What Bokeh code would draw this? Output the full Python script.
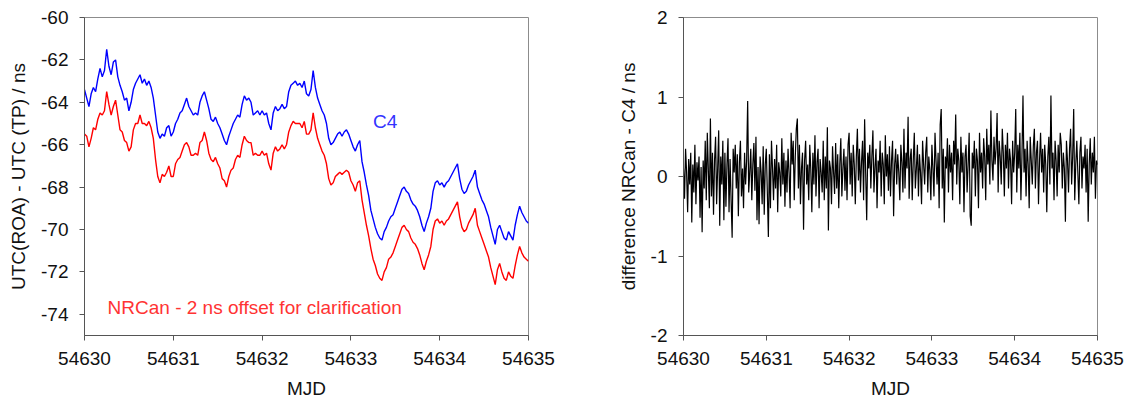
import numpy as np
from bokeh.plotting import figure
from bokeh.layouts import row
from bokeh.models import FixedTicker, Label, ColumnDataSource
from bokeh.embed import file_html
from bokeh.resources import INLINE

# ---------------- data ----------------
mjd_start = 54630
c4_step = 0.025      # days between C4 / NRCan samples
diff_step = 0.0125   # days between difference samples

# UTC(ROA) - UTC(TP) from C4 receiver (ns), every 0.025 d from MJD 54630
c4 = [
    -63.4, -63.8, -64.2, -63.6, -63.3, -63.5, -62.9, -62.4, -62.8, -62.5,
    -61.5, -62.3, -62.7, -62.1, -62.0, -62.8, -63.2, -63.5, -63.9, -63.8,
    -64.4, -64.0, -63.4, -63.1, -62.9, -62.7, -63.1, -62.9, -63.2, -63.0,
    -63.3, -63.8, -64.6, -65.4, -65.7, -65.5, -65.6, -65.2, -65.1, -65.6,
    -65.4, -65.0, -64.8, -64.5, -64.4, -64.1, -63.8, -64.2, -64.4, -64.6,
    -64.5, -64.6, -64.0, -63.7, -63.5, -63.9, -64.3, -64.8, -64.9, -64.7,
    -65.0, -65.2, -65.5, -65.8, -66.0, -65.6, -65.3, -65.0, -64.8, -64.6,
    -64.7, -64.1, -63.7, -63.9, -63.8, -64.0, -64.6, -64.5, -64.4, -64.6,
    -64.4, -64.6, -64.5, -65.0, -65.3, -64.5, -64.2, -64.4, -64.3, -64.1,
    -64.3, -64.2, -63.5, -63.2, -63.1, -63.0, -63.2, -63.1, -63.3, -63.0,
    -63.6, -63.7, -63.4, -62.5, -63.3, -63.8, -64.1, -64.4, -64.6, -65.0,
    -65.7, -66.0, -65.9, -65.7, -65.5, -65.4, -65.6, -65.4, -65.3, -65.5,
    -65.8, -66.1, -66.3, -66.0, -65.8, -66.8, -67.3, -67.9, -68.4, -69.1,
    -69.5, -69.9, -70.2, -70.4, -70.5, -70.1, -69.9, -69.6, -69.4, -69.3,
    -69.0, -68.7, -68.4, -68.1, -68.0, -68.2, -68.3, -68.6, -68.8, -68.9,
    -69.1, -69.4, -69.8, -70.1, -69.7, -69.4, -69.0, -68.2, -67.8, -67.7,
    -67.9, -67.8, -68.0, -67.8, -67.7, -67.5, -67.3, -67.1, -66.9, -67.6,
    -68.1, -68.3, -68.2, -67.9, -67.7, -67.5, -67.2, -68.0, -68.3, -68.6,
    -68.8, -69.1, -69.4, -69.9, -70.3, -70.7, -70.0, -69.8, -70.1, -70.4,
    -70.5, -70.1, -70.3, -70.5, -69.8, -69.3, -68.9, -69.2, -69.4, -69.6,
    -69.7,
]

# UTC(ROA) - UTC(TP) from NRCan PPP (ns), every 0.025 d (plotted with -2 ns offset)
nrcan = [
    -63.5, -63.6, -64.1, -63.7, -63.2, -63.3, -62.8, -62.5, -62.6, -62.4,
    -61.5, -62.1, -62.6, -62.2, -61.9, -62.6, -63.3, -63.4, -63.8, -63.9,
    -64.3, -64.1, -63.3, -63.0, -63.0, -62.6, -63.0, -63.0, -63.1, -62.9,
    -63.2, -63.7, -64.7, -65.5, -65.8, -65.4, -65.5, -65.3, -65.0, -65.5,
    -65.5, -64.9, -64.7, -64.6, -64.3, -64.0, -63.9, -64.1, -64.5, -64.5,
    -64.4, -64.5, -63.9, -63.8, -63.4, -63.8, -64.4, -64.7, -64.8, -64.6,
    -64.9, -65.1, -65.6, -65.7, -66.0, -65.5, -65.2, -65.1, -64.7, -64.5,
    -64.6, -64.0, -63.6, -63.8, -63.9, -63.9, -64.5, -64.4, -64.5, -64.5,
    -64.3, -64.5, -64.4, -64.9, -65.2, -64.4, -64.1, -64.3, -64.2, -64.0,
    -64.2, -64.0, -63.4, -63.1, -62.9, -63.0, -63.0, -63.0, -63.2, -62.9,
    -63.5, -63.5, -63.3, -62.5, -63.2, -63.7, -64.0, -64.3, -64.5, -64.9,
    -65.6, -65.9, -65.8, -65.5, -65.4, -65.3, -65.4, -65.3, -65.2, -65.3,
    -65.7, -65.9, -66.2, -65.8, -65.7, -66.6, -67.2, -67.8, -68.3, -68.9,
    -69.4, -69.7, -70.1, -70.3, -70.4, -70.0, -69.8, -69.4, -69.3, -69.1,
    -68.8, -68.5, -68.2, -67.9, -67.8, -68.0, -68.1, -68.4, -68.6, -68.7,
    -68.9, -69.2, -69.6, -69.9, -69.5, -69.2, -68.8, -68.0, -67.6, -67.5,
    -67.7, -67.6, -67.8, -67.6, -67.5, -67.3, -67.1, -66.9, -66.7, -67.4,
    -67.9, -68.1, -68.0, -67.7, -67.5, -67.3, -67.0, -67.8, -68.1, -68.4,
    -68.7, -69.0, -69.3, -69.8, -70.2, -70.6, -69.9, -69.6, -70.0, -70.3,
    -70.4, -70.0, -70.2, -70.3, -69.7, -69.2, -68.8, -69.1, -69.3, -69.4,
    -69.5,
]

# difference NRCan - C4 (ns), every 0.0125 d from MJD 54630
diff = [
    0.10, -0.28, 0.35, 0.05, -0.45, 0.22, -0.10, 0.30, -0.58, 0.15, -0.20, 0.40, -0.35, 0.18, -0.05, 0.25, -0.52, 0.12, -0.70, 0.20,
    -0.15, 0.45, -0.30, 0.55, 0.08, -0.40, 0.73, -0.25, 0.30, -0.48, 0.20, 0.50, -0.35, 0.10, 0.58, -0.62, 0.25, -0.10, 0.45, -0.55,
    0.30, -0.38, 0.15, 0.48, -0.45, 0.22, -0.30, -0.77, 0.35, 0.05, 0.40, -0.15, 0.28, -0.50, 0.18, 0.45, -0.25, 0.10, -0.40, 0.30,
    -0.10, 0.20, 0.95, -0.20, 0.05, 0.35, -0.30, 0.15, 0.42, -0.18, 0.50, -0.55, 0.12, -0.60, 0.25, 0.05, -0.35, 0.38, -0.48, 0.15,
    0.35, -0.20, -0.76, 0.28, -0.40, 0.45, 0.10, -0.30, 0.22, -0.15, 0.40, -0.45, 0.18, 0.05, -0.25, 0.48, -0.10, 0.30, -0.38, 0.20,
    -0.20, 0.35, 0.05, -0.40, 0.55, 0.15, 0.45, -0.30, 0.25, 0.60, 0.73, -0.15, 0.40, -0.35, 0.10, 0.30, -0.67, 0.20, 0.45, -0.10,
    0.15, -0.30, 0.40, 0.08, -0.45, 0.30, -0.10, 0.52, -0.25, 0.18, 0.35, -0.40, 0.22, 0.05, -0.20, 0.45, -0.30, 0.25, -0.15, 0.62,
    -0.68, 0.20, 0.10, -0.35, 0.38, 0.05, -0.22, 0.42, -0.15, 0.28, -0.40, 0.15, 0.48, -0.25, 0.10, 0.35, -0.18, 0.25, -0.30, 0.40,
    0.55, -0.10, 0.30, -0.25, 0.40, 0.15, -0.35, 0.25, 0.60, -0.05, 0.35, -0.20, 0.18, 0.45, -0.30, 0.72, 0.05, -0.55, 0.30, 0.10,
    0.40, -0.15, 0.25, 0.58, -0.20, 0.12, 0.35, -0.40, 0.20, 0.05, 0.45, -0.25, 0.30, 0.15, -0.35, 0.52, 0.00, 0.28, -0.18, 0.38,
    -0.25, 0.20, 0.45, -0.50, 0.15, 0.35, -0.10, 0.28, 0.05, -0.30, 0.40, 0.18, -0.20, 0.60, -0.15, 0.30, 0.10, 0.75, -0.28, 0.22,
    0.35, -0.30, 0.20, 0.55, -0.15, 0.10, 0.40, -0.25, 0.28, 0.05, -0.35, 0.45, 0.15, -0.10, 0.30, 0.50, -0.20, 0.25, 0.08, -0.30,
    0.40, 0.10, -0.25, 0.55, 0.20, -0.10, 0.30, -0.40, 0.65, 0.85, -0.15, 0.35, -0.58, 0.25, 0.10, 0.48, -0.20, 0.40, 0.05, 0.30,
    -0.30, 0.45, 0.15, 0.78, -0.10, 0.35, 0.20, -0.35, 0.50, 0.05, 0.30, -0.45, 0.25, 0.40, -0.20, 0.15, 0.55, -0.50, -0.62, 0.30,
    0.10, 0.45, -0.25, 0.35, 0.20, -0.40, 0.55, 0.05, 0.30, -0.15, 0.48, 0.25, -0.30, 0.60, 0.15, 0.40, -0.10, 0.83, 0.20, -0.05,
    0.50, 0.15, 0.35, 0.80, -0.20, 0.45, 0.25, -0.10, 0.60, 0.30, -0.25, 0.40, 0.10, 0.55, -0.15, 0.35, 0.20, -0.35, 0.45, 0.05,
    0.30, 0.85, -0.20, 0.40, 0.10, 0.55, -0.30, 0.25, 1.02, 0.05, 0.35, -0.25, 0.45, 0.15, -0.40, 0.50, 0.20, -0.10, 0.38, 0.60,
    -0.15, 0.30, 0.45, -0.35, 0.20, 0.55, 0.05, 0.35, -0.20, 0.40, 0.15, -0.45, 0.25, 0.50, -0.10, 1.02, 0.10, 0.30, -0.30, 0.45,
    0.20, -0.25, 0.40, 0.05, 0.55, 0.40, -0.15, 0.30, 0.10, -0.57, 0.45, 0.20, -0.20, 0.35, 0.60, -0.10, 0.25, 0.85, -0.30, 0.15,
    0.45, 0.05, -0.35, 0.30, 0.50, -0.15, 0.25, 0.10, 0.40, -0.20, 0.35, -0.57, 0.15, 0.48, -0.10, 0.30, 0.05, 0.50, -0.28, 0.20,
    0.15,
]

nrcan_offset = -2.0  # ns offset applied to NRCan for clarification

x_ticks = [54630, 54631, 54632, 54633, 54634, 54635]
x_tick_labels = ["54630", "54631", "54632", "54633", "54634", "54635"]
left_y_ticks = [-74, -72, -70, -68, -66, -64, -62, -60]
right_y_ticks = [-2, -1, 0, 1, 2]

# ---------------- derived tables ----------------
c4_mjd = mjd_start + np.arange(len(c4)) * c4_step
diff_mjd = mjd_start + np.arange(len(diff)) * diff_step
nrcan_shown = np.array(nrcan) + nrcan_offset

src_left = ColumnDataSource(dict(mjd=c4_mjd, c4=np.array(c4), nrcan=nrcan_shown))
src_right = ColumnDataSource(dict(mjd=diff_mjd, diff=np.array(diff)))

FONT = "Liberation Sans"
FS = "19px"


def style(p, yticks):
    p.background_fill_color = "white"
    p.border_fill_color = "white"
    p.outline_line_color = "#8c8c8c"
    p.outline_line_width = 1
    p.xgrid.visible = False
    p.ygrid.visible = False
    p.xaxis.ticker = FixedTicker(ticks=x_ticks)
    p.xaxis.major_label_overrides = {t: s for t, s in zip(x_ticks, x_tick_labels)}
    p.yaxis.ticker = FixedTicker(ticks=yticks)
    p.yaxis.major_label_overrides = {t: str(t) for t in yticks}
    for ax in (p.xaxis[0], p.yaxis[0]):
        ax.axis_line_color = "#555555"
        ax.major_tick_line_color = "#555555"
        ax.major_tick_in = 0
        ax.major_tick_out = 5
        ax.minor_tick_line_color = None
        ax.major_label_text_font = FONT
        ax.major_label_text_font_size = FS
        ax.major_label_text_color = "#111111"
        ax.axis_label_text_font = FONT
        ax.axis_label_text_font_size = FS
        ax.axis_label_text_font_style = "normal"
        ax.axis_label_text_color = "#111111"
    p.xaxis.major_label_standoff = 11
    p.xaxis.axis_label_standoff = 10
    p.yaxis.major_label_standoff = 11
    p.yaxis.axis_label_standoff = 9


# ---------------- left panel ----------------
p1 = figure(
    width=580, height=402,
    x_range=(54630, 54635), y_range=(-75, -60),
    output_backend="svg", toolbar_location=None,
    min_border_left=84, min_border_right=52,
    min_border_top=17, min_border_bottom=67,
    x_axis_label="MJD", y_axis_label="UTC(ROA) - UTC (TP) / ns",
)
style(p1, left_y_ticks)
p1.line("mjd", "c4", source=src_left, line_color="#0000ff", line_width=1.4)
p1.line("mjd", "nrcan", source=src_left, line_color="#ff0000", line_width=1.4)
p1.add_layout(Label(x=54633.25, y=-64.9, text="C4", text_color="#3333ff",
                    text_font=FONT, text_font_size=FS, text_baseline="middle",
                    text_align="left"))
p1.add_layout(Label(x=54630.26, y=-73.7, text="NRCan - 2 ns offset for clarification",
                    text_color="#ff3333", text_font=FONT, text_font_size=FS,
                    text_baseline="middle", text_align="left"))

# ---------------- right panel ----------------
p2 = figure(
    width=545, height=402,
    x_range=(54630, 54635), y_range=(-2, 2),
    output_backend="svg", toolbar_location=None,
    min_border_left=103, min_border_right=28,
    min_border_top=17, min_border_bottom=67,
    x_axis_label="MJD", y_axis_label="difference NRCan - C4 / ns",
)
style(p2, right_y_ticks)
p2.line("mjd", "diff", source=src_right, line_color="black", line_width=1.2)

layout = row(p1, p2)
open("out.html", "w").write(file_html(layout, INLINE))
